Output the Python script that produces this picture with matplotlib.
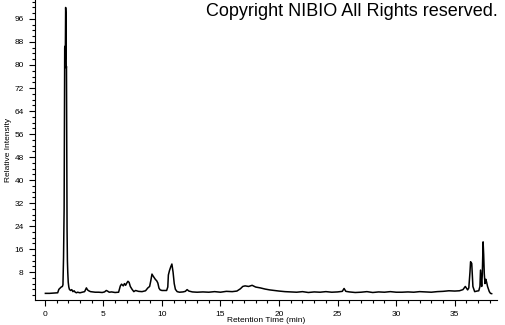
import matplotlib
matplotlib.use("Agg")
import matplotlib.pyplot as plt
from matplotlib.ticker import MultipleLocator

# chromatogram trace (retention time in min, relative intensity)
rt = [0.05, 0.4, 0.8, 1.1, 1.2, 1.3, 1.4, 1.5, 1.55, 1.6, 1.65, 1.7, 1.72, 1.75, 1.78, 1.8,
      1.83, 1.85, 1.88, 1.9, 1.93, 1.96, 2.0, 2.05, 2.1, 2.2, 2.3, 2.4, 2.5, 2.6, 2.7, 2.8,
      3.0, 3.2, 3.4, 3.55, 3.65, 3.75, 3.9, 4.1, 4.3, 4.6, 4.9, 5.1, 5.25, 5.35, 5.5, 5.7,
      6.0, 6.3, 6.45, 6.55, 6.7, 6.8, 6.9, 7.0, 7.1, 7.2, 7.3, 7.45, 7.6, 7.75, 8.0, 8.3,
      8.6, 8.8, 8.95, 9.05, 9.15, 9.25, 9.35, 9.45, 9.55, 9.65, 9.75, 9.85, 10.0, 10.2,
      10.4, 10.5, 10.55, 10.65, 10.75, 10.85, 10.95, 11.05, 11.15, 11.3, 11.5, 11.8,
      12.0, 12.15, 12.3, 12.6, 13.0, 13.5, 14.0, 14.5, 15.0, 15.5, 16.0, 16.4, 16.7,
      16.9, 17.1, 17.4, 17.7, 18.0, 18.4, 18.8, 19.2, 19.6, 20.0, 20.5, 21.0, 21.5,
      22.0, 22.5, 23.0, 23.5, 24.0, 24.5, 25.0, 25.4, 25.55, 25.7, 26.0, 26.5, 27.0,
      27.5, 28.0, 28.5, 29.0, 29.5, 30.0, 30.5, 31.0, 31.5, 32.0, 32.5, 33.0, 33.5,
      34.0, 34.5, 35.0, 35.4, 35.7, 35.9, 36.1, 36.2, 36.3, 36.35, 36.45, 36.55, 36.7,
      36.9, 37.05, 37.15, 37.2, 37.25, 37.3, 37.35, 37.42, 37.47, 37.52, 37.58, 37.65,
      37.72, 37.8, 37.88, 37.95, 38.05, 38.15]
intensity = [0.6, 0.6, 0.7, 0.8, 2.0, 2.4, 2.8, 3.0, 3.6, 13.0, 30.0, 86.0, 86.5, 82.0, 100.0, 98.0,
             79.0, 79.5, 50.0, 23.0, 12.0, 8.0, 4.5, 2.8, 2.0, 1.6, 1.9, 1.2, 1.5, 1.0, 0.8, 1.0,
             0.8, 1.0, 1.2, 2.5, 1.8, 1.5, 1.2, 1.1, 1.0, 1.0, 0.9, 1.1, 1.6, 1.4, 1.0, 1.1,
             0.9, 1.0, 3.2, 3.8, 3.2, 4.0, 3.4, 4.2, 4.8, 4.4, 3.0, 2.0, 1.2, 1.6, 1.3, 1.2,
             1.5, 2.5, 3.0, 5.0, 7.3, 6.6, 6.0, 5.4, 5.0, 4.2, 2.4, 1.8, 1.6, 1.6,
             1.6, 2.8, 7.0, 8.6, 9.8, 10.8, 8.0, 4.0, 2.0, 1.2, 1.0, 1.1,
             1.3, 1.9, 1.4, 1.1, 1.0, 1.1, 1.0, 1.2, 1.0, 1.3, 1.2, 1.4, 2.2,
             3.0, 3.2, 3.0, 3.4, 2.8, 2.5, 2.1, 1.8, 1.6, 1.4, 1.2, 1.1, 1.0,
             1.2, 0.9, 1.1, 1.0, 1.2, 1.0, 1.1, 1.3, 2.3, 1.3, 1.1, 0.9, 1.0,
             1.2, 0.9, 1.1, 1.0, 1.2, 1.0, 1.0, 1.1, 1.0, 1.2, 1.1, 1.0, 1.2,
             1.3, 1.5, 1.4, 1.5, 1.9, 3.0, 1.8, 2.5, 8.0, 11.6, 11.0, 3.0, 1.2,
             1.4, 1.5, 3.0, 8.7, 6.0, 3.0, 7.0, 18.5, 14.0, 7.5, 4.0, 5.5,
             4.5, 3.0, 2.0, 1.2, 0.6, 0.5]

ytick_vals = [8, 16, 24, 32, 40, 48, 56, 64, 72, 80, 88, 96]
xtick_vals = [0, 5, 10, 15, 20, 25, 30, 35]

fig = plt.figure(figsize=(5.05, 3.25), dpi=100)
ax = fig.add_axes([0.069, 0.077, 0.915, 0.923])
ax.plot(rt, intensity, color="black", lw=1.1)

ax.set_xlim(-0.85, 38.6)
ax.set_ylim(-1.7, 102.6)
ax.set_xticks(xtick_vals)
ax.set_yticks(ytick_vals)
ax.xaxis.set_minor_locator(MultipleLocator(1))
ax.yaxis.set_minor_locator(MultipleLocator(2))
ax.tick_params(which="major", length=4, width=0.8, labelsize=6, pad=4)
ax.tick_params(which="minor", length=2.5, width=0.8)
for s in ["top", "right"]:
    ax.spines[s].set_visible(False)

ax.set_xlabel("Retention Time (min)", fontsize=6, family="Liberation Sans", va="center")
ax.set_ylabel("Relative Intensity", fontsize=6, family="Liberation Sans", va="center")
ax.xaxis.set_label_coords(0.5, -0.068)
ax.yaxis.set_label_coords(-0.058, 0.5)
for lab in ax.get_xticklabels() + ax.get_yticklabels():
    lab.set_family("Liberation Sans")

fig.text(0.985, 0.99, "Copyright NIBIO All Rights reserved.", ha="right", va="top",
         fontsize=13, family="Liberation Sans")

fig.savefig("out.png", dpi=100)
